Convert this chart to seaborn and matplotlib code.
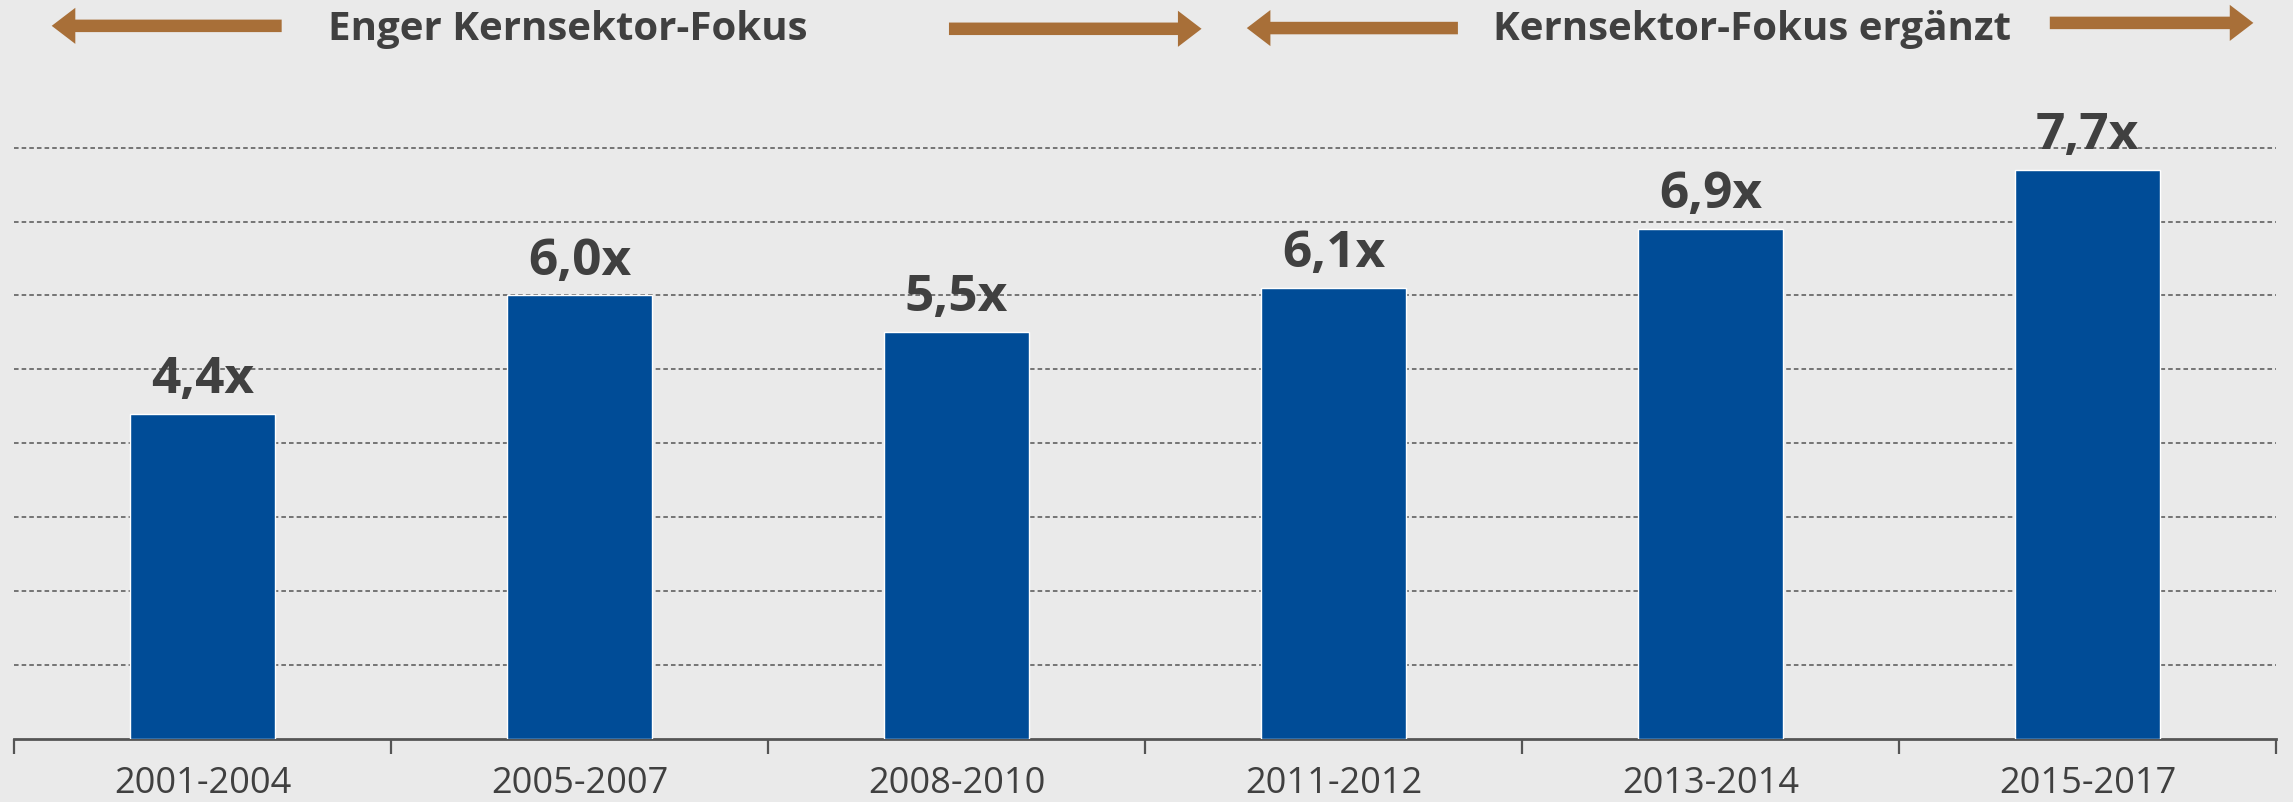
import matplotlib
matplotlib.use("Agg")
import matplotlib.pyplot as plt
import seaborn as sns

# Data
periods = ["2001-2004", "2005-2007", "2008-2010", "2011-2012", "2013-2014", "2015-2017"]
multiples = [4.4, 6.0, 5.5, 6.1, 6.9, 7.7]
value_labels = ["4,4x", "6,0x", "5,5x", "6,1x", "6,9x", "7,7x"]
phase_titles = ["Enger Kernsektor-Fokus", "Kernsektor-Fokus ergänzt"]

bg = "#EAEAEA"
bar_color = "#004C97"
arrow_color = "#A86F38"
text_color = "#404040"

sns.set_style("white")
plt.rcParams['font.family'] = ['Open Sans', 'DejaVu Sans']

fig = plt.figure(figsize=(22.93, 8.02), dpi=100, facecolor=bg)
ax = fig.add_axes([14 / 2293, (802 - 738.5) / 802, 2262 / 2293, 738.5 / 802])
ax.set_facecolor(bg)

sns.barplot(x=periods, y=multiples, color=bar_color, saturation=1, width=0.385, ax=ax, zorder=3)

ax.set_xlim(-0.5, 5.5)
ax.set_ylim(0, 10)

# dashed gridlines at 1..8
ax.set_yticks(range(1, 9))
ax.set_yticklabels([])
ax.tick_params(axis='y', length=0)
ax.yaxis.grid(True, linestyle=(0, (3, 2)), color="#555555", linewidth=1.1, zorder=0)
ax.xaxis.grid(False)

for side in ["top", "left", "right"]:
    ax.spines[side].set_visible(False)
ax.spines["bottom"].set_color("#555555")
ax.spines["bottom"].set_linewidth(2)

# category labels, separator ticks between categories
ax.tick_params(axis='x', which='major', length=0, pad=20, labelsize=26, labelcolor=text_color)
ax.set_xticks([i - 0.5 for i in range(len(periods) + 1)], minor=True)
ax.tick_params(axis='x', which='minor', bottom=True, length=11, width=1.6,
               color="#555555", direction='out')
ax.set_xlabel("")
ax.set_ylabel("")

# value labels above bars
for i, (v, lab) in enumerate(zip(multiples, value_labels)):
    ax.annotate(lab, xy=(i, v), xytext=(0, 15), textcoords='offset points',
                ha='center', va='baseline', fontsize=37, fontweight='bold', color=text_color)

# phase headers with arrows
ax.text(0.97, 9.6, phase_titles[0], ha='center', va='center', fontsize=29,
        fontweight='bold', color=text_color)
ax.text(4.11, 9.6, phase_titles[1], ha='center', va='center', fontsize=29,
        fontweight='bold', color=text_color)

arrows = [((0.21, 9.65), (-0.40, 9.65)),
          ((1.98, 9.61), (2.65, 9.61)),
          ((3.33, 9.62), (2.77, 9.62)),
          ((4.90, 9.69), (5.44, 9.69))]
for tail, tip in arrows:
    ax.annotate('', xy=tip, xytext=tail,
                arrowprops=dict(arrowstyle='simple,head_length=17,head_width=26,tail_width=9',
                                mutation_scale=1, color=arrow_color, shrinkA=0, shrinkB=0, lw=0))

fig.savefig("out.png", dpi=100, facecolor=bg)
